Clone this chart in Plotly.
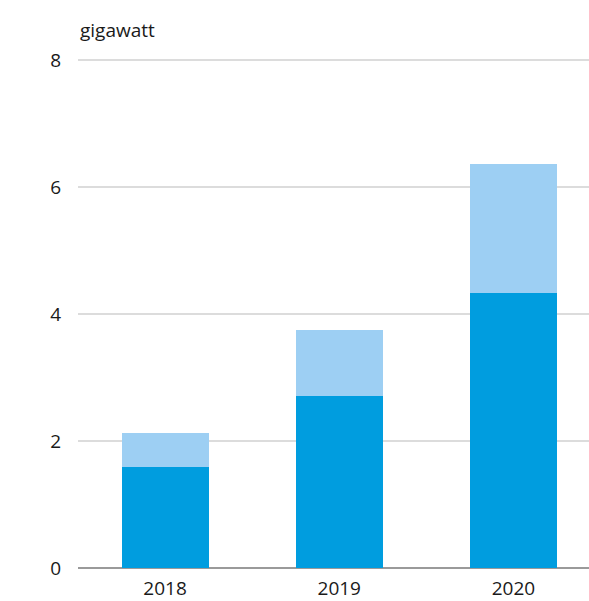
import plotly.graph_objects as go

years = ["2018", "2019", "2020"]
dark_values = [1.59, 2.71, 4.34]
light_values = [0.54, 1.04, 2.03]
y_ticks = [0, 2, 4, 6, 8]
unit_label = "gigawatt"

fig = go.Figure()
fig.add_trace(go.Bar(x=years, y=dark_values, marker=dict(color="#009ddf", line=dict(width=0)), width=0.5))
fig.add_trace(go.Bar(x=years, y=light_values, marker=dict(color="#9dcff3", line=dict(width=0)), width=0.5))

font = dict(family="Open Sans, Lato, sans-serif", size=19, color="#1a1a1a")
fig.update_layout(
    barmode="stack",
    width=589, height=601,
    margin=dict(l=78, r=0, t=59, b=33),
    paper_bgcolor="white", plot_bgcolor="white",
    showlegend=False,
    font=font,
    xaxis=dict(type="category", range=[-0.5, 2.434], showgrid=False, showline=False, automargin=False,
               ticks="outside", ticklen=3, tickcolor="rgba(0,0,0,0)", zeroline=False),
    yaxis=dict(range=[0, 8.02], tickvals=y_ticks, showgrid=True, gridcolor="#dcdcdc", gridwidth=1.5,
               automargin=False,
               zeroline=True, zerolinecolor="#9a9a9a", zerolinewidth=2, showline=False,
               ticks="outside", ticklen=12, tickcolor="rgba(0,0,0,0)"),
    annotations=[dict(text=unit_label, xref="paper", yref="paper", x=0, y=1, xanchor="left",
                      yanchor="bottom", yshift=14, showarrow=False, font=font)],
)
fig.write_html("out.html")
